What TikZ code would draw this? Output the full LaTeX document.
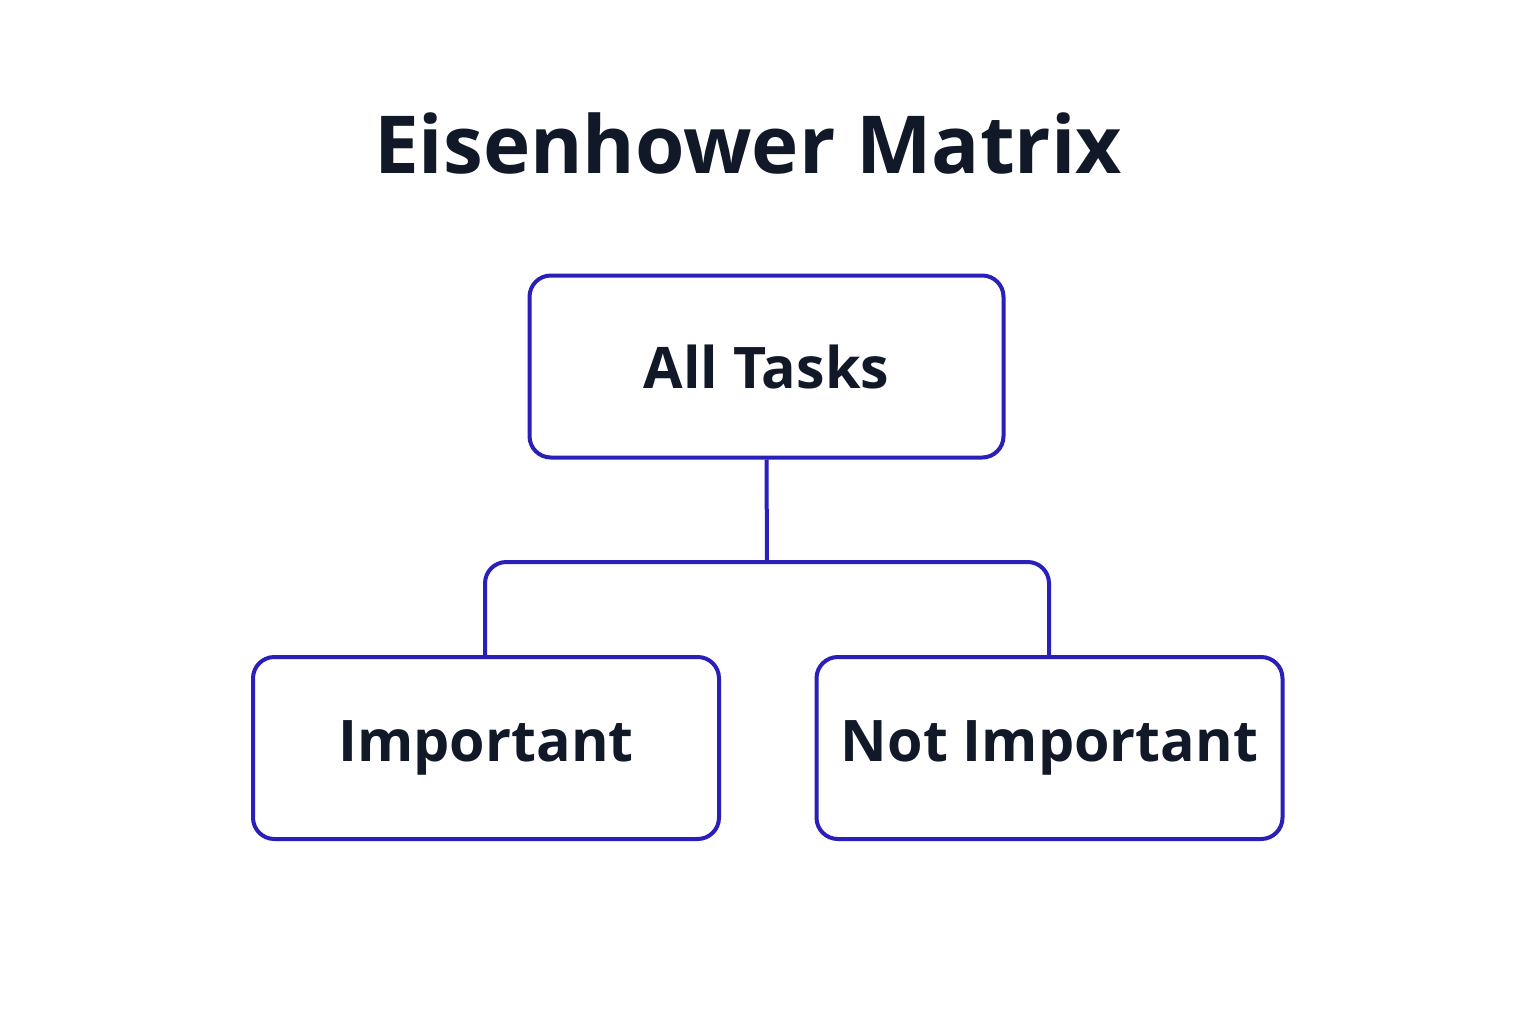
\documentclass[tikz,border=0pt]{standalone}
\usepackage{fontspec}
\setmainfont{Open Sans}
\definecolor{bl}{HTML}{2A1FB8}
\definecolor{tx}{HTML}{111827}
\begin{document}
\begin{tikzpicture}[x=0.75pt,y=-0.75pt,
  box/.style={draw=bl,line width=3pt,rounded corners=16pt,inner sep=0pt,minimum width=466*0.75pt,minimum height=182*0.75pt,text=tx,font=\fontsize{43}{50}\selectfont\bfseries},
  conn/.style={draw=bl,line width=3pt,rounded corners=16pt}]
\useasboundingbox (0,0) rectangle (1536,1024);
\fill[white] (0,0) rectangle (1536,1024);
\node[text=tx,font=\fontsize{60}{66}\selectfont\bfseries] (title) at (748,143) {Eisenhower Matrix};
\node[box,minimum width=474*0.75pt] (all) at (766.5,366.5) {All Tasks};
\node[box] (imp) at (486,748) {Important};
\node[box] (nimp) at (1049.5,748) {Not Important};
\coordinate (j) at (767,562);
\draw[conn] (all.south) -- (j);
\draw[conn] (imp.north -| 485,0) -- (485,562) -- (1049,562) -- (nimp.north -| 1049,0);
\end{tikzpicture}
\end{document}
